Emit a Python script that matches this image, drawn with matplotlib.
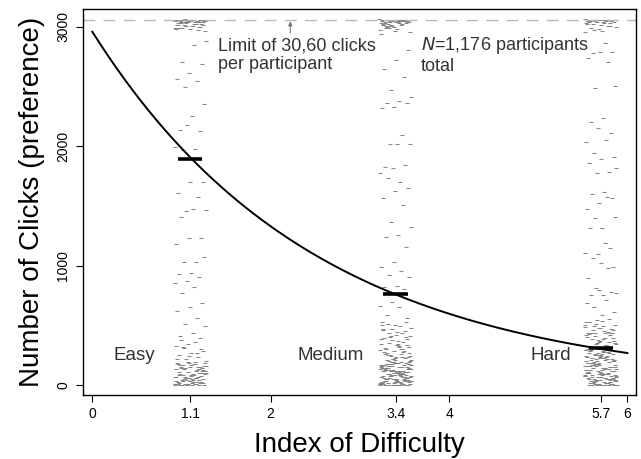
import numpy as np
import matplotlib
matplotlib.use('Agg')
from matplotlib import pyplot as plt

plt.rcParams['font.family'] = ['Liberation Sans', 'DejaVu Sans']

# index of difficulty for the three conditions
ids = [1.1, 3.4, 5.7]
names = ['Easy', 'Medium', 'Hard']
means = [1895, 762, 307]   # mean number of clicks
limit = 3060
fit_a, fit_b = 2960, 0.400  # exponential fit: a * exp(-b * ID)

# clicks per participant
easy_top = [3062, 3060, 3058, 3061, 3055, 3059, 3052, 3063, 3050, 3057, 3048, 3060, 3045, 3054, 3041,
            3062, 3038, 3056, 3035, 3049, 3030, 3058, 3027, 3044, 3022, 3061, 3018, 3040, 3013, 3053,
            3008, 3036, 3002, 3047, 2995, 3029, 2988, 3057, 2980, 3020, 2972, 3043, 2965, 3010, 3033,
            2998, 3050, 2985, 3025, 3059, 3015, 3046, 2992, 3039, 3005]
easy_mid = [2884, 2848, 2708, 2690, 2616, 2560, 2546, 2493, 2353, 2253, 2141, 2127, 2178, 1996, 1975,
            1972, 1703, 1703, 1611, 1575, 1460, 1463, 1474, 1404, 1229, 1231, 1178, 1033, 1027, 1069,
            938, 929, 907, 874, 851, 821, 771, 687, 651, 622, 558, 511, 497, 436, 408, 391, 343, 329,
            357, 316, 288, 268, 251, 232, 218, 204, 176, 380, 300, 245, 222, 265, 310]
easy_low = [0, 0, 0, 0, 0, 0, 12, 87, 145, 33, 178, 64, 5, 121, 96, 150, 27, 190, 71, 8, 133, 52, 166,
            19, 104, 41, 158, 83, 3, 117, 60, 185, 24, 139, 92, 47, 171, 14, 109, 68, 196, 36, 127, 80,
            10, 153, 57, 99, 22, 142, 75, 183, 30, 114, 49, 162, 17, 88, 136, 63, 6, 175, 44, 102, 155,
            28, 124, 70, 187, 39, 93, 148, 11, 131, 58, 168, 21, 85, 112, 46]

medium_top = [3063, 3058, 3061, 3054, 3060, 3049, 3057, 3044, 3062, 3052, 3039, 3059, 3046, 3034, 3056,
              3028, 3061, 3041, 3022, 3050, 3015, 3058, 3036, 3008, 3047, 3000, 3055, 3025, 2992, 3043,
              2984, 3031, 3060, 3012, 2975, 3052, 2996, 3038, 2966, 3020, 3057, 3005, 2955, 3045, 2988,
              3030, 3062, 2944, 3017, 3050]
medium_mid = [2806, 2722, 2644, 2582, 2476, 2415, 2381, 2359, 2359, 2326, 2317, 2094, 2018, 2018, 2018,
              1828, 1842, 1815, 1778, 1703, 1731, 1655, 1627, 1564, 1508, 1368, 1326, 1256, 1237, 1153,
              1033, 991, 957, 921, 907, 829, 823, 801, 698, 662, 656, 586, 558, 503, 461, 433, 405,
              205, 340, 262, 455, 218, 389, 298, 512, 231, 420, 275, 361, 247, 480, 322, 209, 401, 285,
              525, 239, 352, 268, 445, 311, 226, 378, 293, 497, 254, 332, 214, 466, 281, 409, 243, 370,
              304, 528, 222, 348, 259, 433, 317, 236, 395, 288, 471, 212, 326, 265, 387, 229, 505, 300,
              252, 415, 337]
medium_low = [0, 0, 0, 0, 0, 0, 0, 0, 7, 93, 162, 38, 121, 55, 188, 14, 140, 76, 199, 29, 108, 61, 171,
              3, 132, 84, 47, 155, 22, 117, 66, 180, 10, 98, 143, 35, 126, 71, 193, 18, 112, 52, 165, 41,
              88, 136, 4, 177, 59, 103, 25, 149, 80, 196, 33, 124, 68, 158, 12, 95, 139, 44, 185, 27, 115,
              73, 169, 1, 130, 57, 101, 151, 20, 90, 175, 48, 122, 64, 190, 16, 107, 146, 37, 82, 160, 9,
              128, 70, 183, 30, 111, 53, 167, 24, 96, 137, 42, 172, 6, 119, 78, 154, 34, 86, 194, 15, 104,
              62, 145, 26, 134, 50, 178, 11, 92, 157, 39, 116, 74]

hard_top = [3063, 3059, 3061, 3055, 3060, 3050, 3057, 3046, 3062, 3042, 3053, 3036, 3058, 3030, 3048,
            3024, 3061, 3017, 3040, 3010, 3055, 3002, 3033, 2993, 3046, 2985, 3026, 3060, 2976, 3038,
            2968, 3051, 3012, 3044, 2958]
hard_mid = [2867, 2778, 2792, 2792, 2736, 2708, 2485, 2504, 2241, 2207, 2108, 2150, 2038, 2057, 1946,
            1912, 1890, 1857, 1786, 1778, 1815, 1619, 1600, 1564, 1522, 1471, 1578, 1396, 1410, 1312,
            1312, 1145, 1097, 1108, 1187, 1061, 991, 1019, 894, 977, 810, 768, 754, 754, 782, 796, 684,
            712, 656, 614, 586, 530, 550, 544, 503, 433, 433, 433, 475, 433,
            305, 412, 356, 498, 321, 440, 377, 525, 338, 465, 391, 310, 427, 362, 510, 345, 452, 384,
            318, 478, 400, 330, 437, 369, 535, 313, 420, 351, 488, 395, 326, 458, 373, 302, 444, 342,
            505, 386, 315, 470, 359, 423, 335, 492]
hard_low = [0, 0, 0, 0, 0, 0, 0, 0, 9, 112, 235, 47, 176, 83, 281, 20, 150, 66, 205, 131, 38, 259, 97,
            187, 14, 221, 73, 140, 290, 52, 168, 105, 246, 27, 199, 86, 126, 272, 5, 158, 61, 230, 118,
            43, 185, 92, 264, 31, 147, 213, 76, 122, 296, 17, 171, 58, 240, 101, 194, 35, 135, 277, 69,
            217, 11, 162, 89, 251, 44, 129, 183, 24, 268, 79, 208, 143, 55, 225, 108, 3, 174, 66, 287,
            38, 155, 96, 243, 21, 190, 117, 260, 49, 138, 202, 81, 29, 166, 114, 255, 61, 219, 8, 149,
            90, 283, 41, 179, 127, 236, 16, 198, 70, 271, 102, 157, 33, 228, 85, 5, 185, 124, 293, 54,
            211, 99, 163, 26, 249, 76, 141, 187, 12, 232, 109, 274, 46, 170]

groups = [easy_top + easy_mid + easy_low,
          medium_top + medium_mid + medium_low,
          hard_top + hard_mid + hard_low]

fig = plt.figure(figsize=(6.41, 4.59), dpi=100)
ax = fig.add_axes([0.129, 0.140, 0.863, 0.840])

# jittered dots (deterministic spread across the column)
for x0, ys in zip(ids, groups):
    n = len(ys)
    jit = ((np.arange(n) * 0.6180339887) % 1 - 0.5) * 0.36
    ax.plot(x0 + jit, ys, ls='none', marker='_', ms=2.2, mew=0.75, color='#858585')

ax.axhline(limit, color='#b8b8b8', ls=(0, (8.5, 6)), lw=1)

xs = np.linspace(0, 6, 200)
ax.plot(xs, fit_a * np.exp(-fit_b * xs), color='black', lw=1.4)

for x0, m in zip(ids, means):
    ax.plot([x0 - 0.135, x0 + 0.135], [m, m], color='black', lw=2.6, solid_capstyle='butt')

for x0, name in zip([0.47, 2.675, 5.14], names):
    ax.text(x0, 245, name, ha='center', va='center', fontsize=13.5, color='#333333')

ax.annotate('', xy=(2.22, 3048), xytext=(2.22, 2948),
            arrowprops=dict(arrowstyle='-|>', color='#777777', lw=0.8, mutation_scale=6,
                            shrinkA=0, shrinkB=0))
ax.text(1.41, 2764, 'Limit of 30,60 clicks\nper participant', ha='left', va='center',
        fontsize=13, color='#333333', linespacing=1.15)
ax.text(3.685, 2764, '$N$=1,176 participants\ntotal', ha='left', va='center',
        fontsize=13, color='#333333', linespacing=1.15)

ax.set_xlim(-0.108, 6.095)
ax.set_ylim(-81, 3149)
ax.set_xticks([0, 1.1, 2, 3.4, 4, 5.7, 6])
ax.set_xticklabels(['0', '1.1', '2', '3.4', '4', '5.7', '6'], fontsize=10)
ax.set_yticks([0, 1000, 2000, 3000])
ax.set_yticklabels(['0', '1000', '2000', '3000'], fontsize=10, rotation=90, va='center')
ax.tick_params(length=5, width=0.8, pad=4)
for s in ax.spines.values():
    s.set_linewidth(1)

ax.set_xlabel('Index of Difficulty', fontsize=20, labelpad=8)
ax.set_ylabel('Number of Clicks (preference)', fontsize=20, labelpad=8)

plt.savefig('out.png', dpi=100)
